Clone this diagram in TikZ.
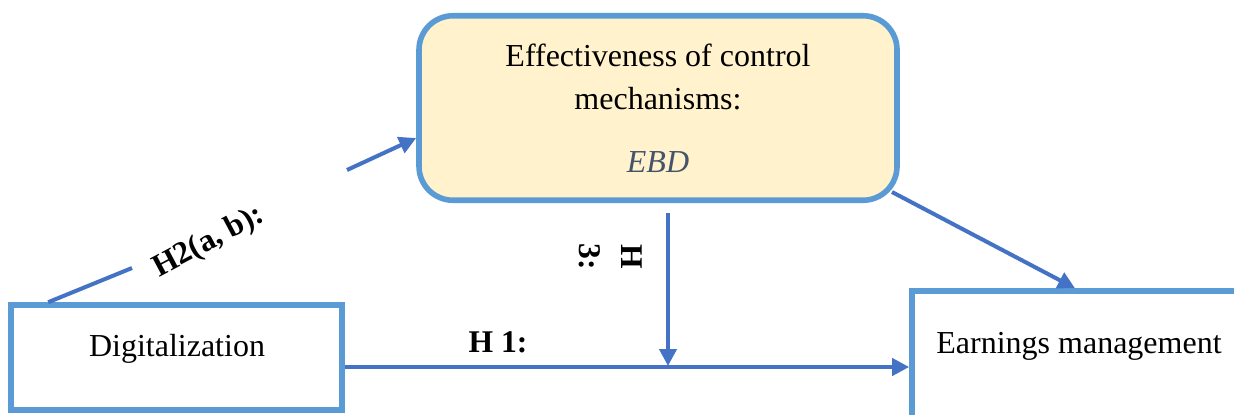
\documentclass[tikz,border=0pt]{standalone}
\usepackage{fontspec}
\setmainfont{Liberation Serif}
\usetikzlibrary{arrows.meta,calc}
\definecolor{boxblue}{HTML}{5B9BD5}
\definecolor{arrblue}{HTML}{4472C4}
\definecolor{ctrlfill}{HTML}{FFF2CC}
\definecolor{ebdcol}{HTML}{44546A}
\begin{document}
\begin{tikzpicture}[x=0.5pt,y=-0.5pt,
  box/.style={draw=boxblue, line width=2.8pt, rectangle, inner sep=0pt},
  arr/.style={draw=arrblue, line width=2pt, -{Triangle[length=8.5pt,width=8.5pt]}},
  plainline/.style={draw=arrblue, line width=2pt},
  lbl/.style={font=\fontsize{15.8}{21}\selectfont\bfseries, inner sep=0pt},
  txt/.style={font=\fontsize{16}{21.5}\selectfont, inner sep=0pt}]
\useasboundingbox (0,0) rectangle (1234,414);
\clip (0,0) rectangle (1234,414);
\fill[white] (0,0) rectangle (1234,414);
% boxes
\node[box, fill=ctrlfill, rounded corners=17pt, minimum width=239pt, minimum height=92.25pt, align=center, txt] (ctrl) at (658,108)
  {Effectiveness of control\\mechanisms:\\[10pt]\textcolor{ebdcol}{\textit{EBD}}};
\node[box, minimum width=165.5pt, minimum height=52.5pt] (dig) at (176.5,357.5) {};
\node[txt, anchor=base] (digt) at (177,356) {Digitalization};
\node[box, minimum width=200pt, minimum height=100pt] (earn) at (1112,391) {};
\node[txt, anchor=base] (earnt) at (1079,353) {Earnings management};
% helper coordinates
\coordinate (h1y) at (0,367);
\coordinate (h3s) at (668,213);
\coordinate (h3e) at (668,366);
\coordinate (h2s) at ($(dig.north west)+(40,0)$);
\coordinate (h2a) at (132,268);
\coordinate (h2b) at (347,170);
\coordinate (h2ey) at (0,138);
\coordinate (c1) at (892,192);
\coordinate (emid) at (1075,0);
% connectors
\draw[arr] (dig.east |- h1y) -- (earn.west |- h1y);
\draw[arr] (h3s) -- (h3e);
\draw[plainline] (h2s) -- (h2a);
\draw[arr] (h2b) -- (ctrl.west |- h2ey);
\draw[arr] (c1) -- (earn.north -| emid);
% labels
\node[lbl, anchor=base] (h1l) at (498,352) {H 1:};
\node[lbl, rotate=28] (h2l) at (209,242) {H2(a, b):};
\node[lbl, rotate=-90, align=center] (h3l) at (611,257) {H\\3:};
\end{tikzpicture}
\end{document}
